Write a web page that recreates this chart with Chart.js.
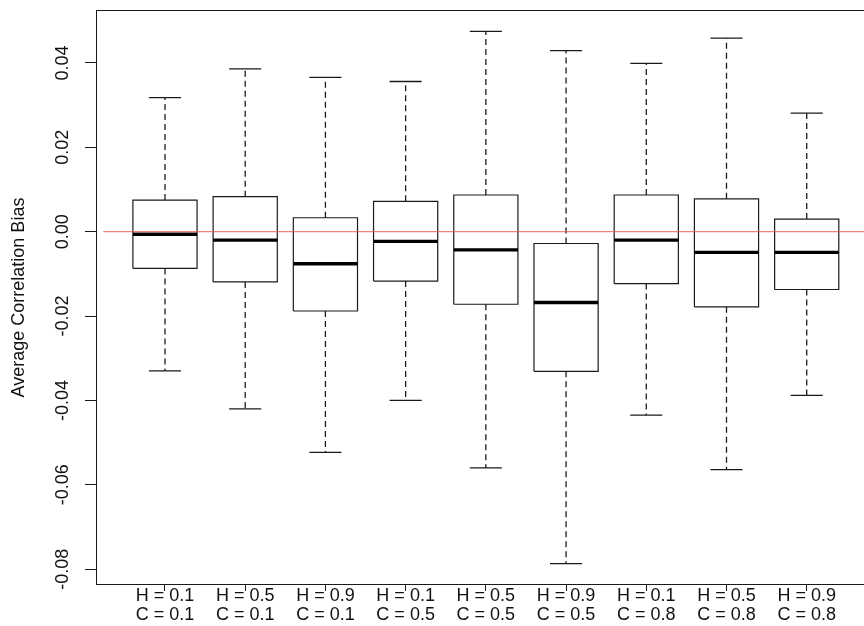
<!DOCTYPE html>
<html>
<head>
<meta charset="utf-8">
<script src="https://cdn.jsdelivr.net/npm/chart.js@4.4.1/dist/chart.umd.min.js"></script>
<style>
  html, body { margin: 0; padding: 0; background: #fff; overflow: hidden; }
  #wrap { width: 864px; height: 626px; overflow: hidden; position: relative; }
  canvas { display: block; }
</style>
</head>
<body>
<div id="wrap"><canvas id="c" width="890" height="626" style="width:890px;height:626px"></canvas></div>
<script>
// ---- data ----
const hValues = ['0.1', '0.5', '0.9', '0.1', '0.5', '0.9', '0.1', '0.5', '0.9'];
const cValues = ['0.1', '0.1', '0.1', '0.5', '0.5', '0.5', '0.8', '0.8', '0.8'];
const whiskerLow  = [-0.0330, -0.0420, -0.0523, -0.0400, -0.0560, -0.0787, -0.0435, -0.0564, -0.0388];
const q1          = [-0.0087, -0.0119, -0.0188, -0.0117, -0.0172, -0.0331, -0.0123, -0.0178, -0.0137];
const median      = [-0.0006, -0.0020, -0.0076, -0.0023, -0.0043, -0.0168, -0.0020, -0.0049, -0.0049];
const q3          = [ 0.0075,  0.0083,  0.0033,  0.0072,  0.0087, -0.0028,  0.0087,  0.0078,  0.0030];
const whiskerHigh = [ 0.0318,  0.0386,  0.0366,  0.0356,  0.0475,  0.0429,  0.0399,  0.0459,  0.0281];
const yTicks      = [-0.08, -0.06, -0.04, -0.02, 0, 0.02, 0.04];
const yTickLabels = ['-0.08', '-0.06', '-0.04', '-0.02', '0.00', '0.02', '0.04'];
const yTitle = 'Average Correlation Bias';
const refLine = 0;

// ---- derived geometry (R-style limits) ----
const n = hValues.length;
const positions = hValues.map((_, i) => i + 1);
const loAll = Math.min(...whiskerLow), hiAll = Math.max(...whiskerHigh);
const yPad = 0.04 * (hiAll - loAll);
const xPad = 0.04 * n;
const boxHalf = 0.4, capHalf = 0.2;

function segs(fn) {
  const out = [];
  positions.forEach((p, i) => { fn(p, i).forEach(pt => out.push(pt)); out.push({ x: p, y: null }); });
  return out;
}
const boxPts = segs((p, i) => [
  { x: p - boxHalf, y: q1[i] }, { x: p + boxHalf, y: q1[i] },
  { x: p + boxHalf, y: q3[i] }, { x: p - boxHalf, y: q3[i] }, { x: p - boxHalf, y: q1[i] }
]);
const medPts = segs((p, i) => [{ x: p - boxHalf, y: median[i] }, { x: p + boxHalf, y: median[i] }]);
const whiskUp = segs((p, i) => [{ x: p, y: q3[i] }, { x: p, y: whiskerHigh[i] }]);
const whiskDn = segs((p, i) => [{ x: p, y: q1[i] }, { x: p, y: whiskerLow[i] }]);
const capPts = segs((p, i) => [
  { x: p - capHalf, y: whiskerHigh[i] }, { x: p + capHalf, y: whiskerHigh[i] }, { x: p, y: null },
  { x: p - capHalf, y: whiskerLow[i] }, { x: p + capHalf, y: whiskerLow[i] }
]);
const refPts = [{ x: 0.23, y: refLine }, { x: n + 1, y: refLine }];

const INK = '#1a1a1a';
const FONT = '"Liberation Sans", Arial, Helvetica, sans-serif';
const FS = 18;

const frameAndText = {
  id: 'frameAndText',
  afterDatasetsDraw(chart) {
    const ctx = chart.ctx, a = chart.chartArea;
    ctx.save();
    ctx.strokeStyle = INK; ctx.lineWidth = 1;
    const l = Math.round(a.left) + 0.5, t = Math.round(a.top) + 0.5;
    const r = Math.round(a.right) - 0.5, b = Math.round(a.bottom) - 0.5;
    ctx.strokeRect(l, t, r - l, b - t);
    ctx.restore();
  },
  afterDraw(chart) {
    const ctx = chart.ctx, a = chart.chartArea;
    const ys = chart.scales.y, xs = chart.scales.x;
    ctx.save();
    ctx.fillStyle = '#111';
    ctx.font = FS + 'px ' + FONT;
    ctx.textAlign = 'center';
    ctx.textBaseline = 'middle';
    // y tick labels (rotated)
    yTicks.forEach((v, i) => {
      ctx.save();
      ctx.translate(63, ys.getPixelForValue(v));
      ctx.rotate(-Math.PI / 2);
      ctx.fillText(yTickLabels[i], 0, 0);
      ctx.restore();
    });
    // y title
    ctx.save();
    ctx.translate(19, (a.top + a.bottom) / 2);
    ctx.rotate(-Math.PI / 2);
    ctx.fillText(yTitle, 0, 0);
    ctx.restore();
    // x labels, two lines
    positions.forEach((p, i) => {
      const x = xs.getPixelForValue(p);
      ctx.fillText('H = ' + hValues[i], x, a.bottom + 11);
      ctx.fillText('C = ' + cValues[i], x, a.bottom + 30);
    });
    ctx.restore();
  }
};

const lineDs = (data, color, width, dash) => ({
  data, showLine: true, pointRadius: 0, pointHoverRadius: 0,
  borderColor: color, borderWidth: width, borderDash: dash || [],
  spanGaps: false, fill: false, tension: 0, borderCapStyle: 'butt'
});

new Chart(document.getElementById('c'), {
  type: 'scatter',
  data: {
    datasets: [
      lineDs(refPts, 'rgba(228,90,80,0.75)', 1.2),
      lineDs(medPts, '#000', 3.4),
      lineDs(boxPts, INK, 1.2),
      lineDs(capPts, INK, 1.3),
      lineDs(whiskUp, INK, 1.3, [6, 4]),
      lineDs(whiskDn, INK, 1.3, [6, 4])
    ]
  },
  options: {
    responsive: false,
    animation: false,
    events: [],
    layout: { padding: { left: 0, top: 10, right: 890 - 875.7, bottom: 0 } },
    plugins: { legend: { display: false }, tooltip: { enabled: false }, title: { display: false } },
    scales: {
      x: {
        type: 'linear',
        min: 0.5 - xPad, max: n + 0.5 + xPad,
        afterBuildTicks: s => { s.ticks = positions.map(v => ({ value: v })); },
        afterFit: s => { s.height = 41; },
        ticks: { display: false },
        grid: { display: true, drawOnChartArea: false, drawTicks: true, tickLength: 6, color: INK, lineWidth: 1 },
        border: { display: false }
      },
      y: {
        type: 'linear',
        min: loAll - yPad, max: hiAll + yPad,
        afterBuildTicks: s => { s.ticks = yTicks.map(v => ({ value: v })); },
        afterFit: s => { s.width = 96; },
        ticks: { display: false },
        grid: { display: true, drawOnChartArea: false, drawTicks: true, tickLength: 11, color: INK, lineWidth: 1 },
        border: { display: false }
      }
    }
  },
  plugins: [frameAndText]
});
</script>
</body>
</html>
